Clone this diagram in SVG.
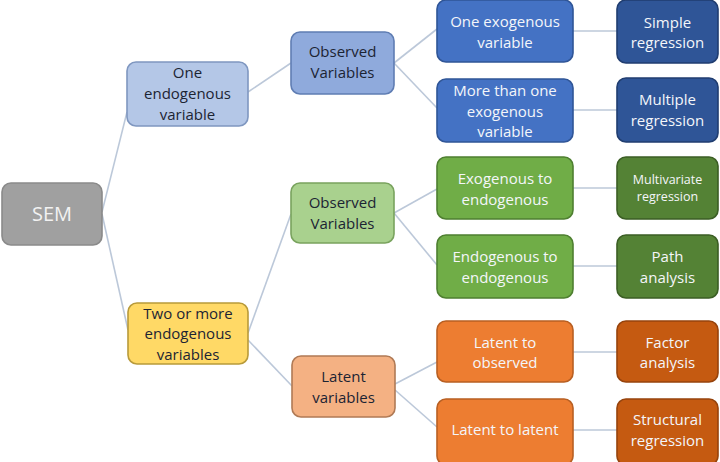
<svg xmlns="http://www.w3.org/2000/svg" width="720" height="462" viewBox="0 0 720 462">
<style>
.bx{stroke-width:1.6}
.t{font-family:"Open Sans","Liberation Sans",sans-serif;font-size:15px;text-anchor:middle}
.dk{fill:#1c2433}
.wt{fill:#f4f6fa}
.cn{stroke:#bcc8d9;stroke-width:1.6;fill:none}
</style>
<rect width="720" height="462" fill="#ffffff"/>
<g id="connectors">
<line class="cn" x1="102" y1="212" x2="127" y2="112"/>
<line class="cn" x1="102" y1="214" x2="128" y2="330"/>
<line class="cn" x1="248" y1="92" x2="291" y2="63"/>
<line class="cn" x1="394" y1="63" x2="437" y2="29"/>
<line class="cn" x1="394" y1="63" x2="437" y2="108"/>
<line class="cn" x1="248" y1="333" x2="291" y2="214"/>
<line class="cn" x1="248" y1="340" x2="292" y2="386"/>
<line class="cn" x1="394" y1="213" x2="437" y2="189"/>
<line class="cn" x1="394" y1="213" x2="437" y2="265"/>
<line class="cn" x1="395" y1="384" x2="437" y2="362"/>
<line class="cn" x1="395" y1="390" x2="437" y2="427"/>
<line class="cn" x1="573" y1="31" x2="617" y2="31"/>
<line class="cn" x1="573" y1="110" x2="617" y2="110"/>
<line class="cn" x1="573" y1="188" x2="617" y2="188"/>
<line class="cn" x1="573" y1="266" x2="617" y2="266"/>
<line class="cn" x1="573" y1="352" x2="617" y2="352"/>
<line class="cn" x1="573" y1="430" x2="617" y2="430"/>
</g>
<g id="sem">
<rect class="bx" x="2" y="183" width="100" height="62" rx="9" fill="#a0a0a0" stroke="#8a8a8a"/>
<text class="t" x="52" y="221" style="font-size:20px" fill="#f2f2f2">SEM</text>
</g>
<g id="one-endogenous">
<rect class="bx" x="127" y="62" width="121" height="64" rx="9" fill="#b4c7e7" stroke="#7f97c0"/>
<text class="t dk" x="187.5" y="78">One</text>
<text class="t dk" x="187.5" y="99">endogenous</text>
<text class="t dk" x="187.5" y="120">variable</text>
</g>
<g id="two-endogenous">
<rect class="bx" x="128" y="303" width="120" height="61" rx="9" fill="#ffd966" stroke="#b89a3a"/>
<text class="t dk" x="188" y="319">Two or more</text>
<text class="t dk" x="188" y="339">endogenous</text>
<text class="t dk" x="188" y="360">variables</text>
</g>
<g id="observed-blue">
<rect class="bx" x="291" y="32" width="103" height="62" rx="9" fill="#8faadc" stroke="#5f7db3"/>
<text class="t dk" x="342.5" y="57">Observed</text>
<text class="t dk" x="342.5" y="78">Variables</text>
</g>
<g id="observed-green">
<rect class="bx" x="291" y="183" width="103" height="60" rx="9" fill="#a9d18e" stroke="#79a35e"/>
<text class="t dk" x="342.5" y="208">Observed</text>
<text class="t dk" x="342.5" y="229">Variables</text>
</g>
<g id="latent">
<rect class="bx" x="292" y="356" width="103" height="61" rx="9" fill="#f4b183" stroke="#b07a55"/>
<text class="t dk" x="343.5" y="382">Latent</text>
<text class="t dk" x="343.5" y="403">variables</text>
</g>
<g id="one-exogenous">
<rect class="bx" x="437" y="0" width="136" height="62" rx="9" fill="#4472c4" stroke="#2f5597"/>
<text class="t wt" x="505" y="27">One exogenous</text>
<text class="t wt" x="505" y="48">variable</text>
</g>
<g id="more-exogenous">
<rect class="bx" x="437" y="79" width="136" height="63" rx="9" fill="#4472c4" stroke="#2f5597"/>
<text class="t wt" x="505" y="96">More than one</text>
<text class="t wt" x="505" y="117">exogenous</text>
<text class="t wt" x="505" y="137">variable</text>
</g>
<g id="exo-endo">
<rect class="bx" x="437" y="157" width="136" height="62" rx="9" fill="#70ad47" stroke="#4e7f30"/>
<text class="t wt" x="505" y="184">Exogenous to</text>
<text class="t wt" x="505" y="205">endogenous</text>
</g>
<g id="endo-endo">
<rect class="bx" x="437" y="235" width="136" height="63" rx="9" fill="#70ad47" stroke="#4e7f30"/>
<text class="t wt" x="505" y="262">Endogenous to</text>
<text class="t wt" x="505" y="283">endogenous</text>
</g>
<g id="latent-observed">
<rect class="bx" x="437" y="321" width="136" height="61" rx="9" fill="#ed7d31" stroke="#b85f22"/>
<text class="t wt" x="505" y="348">Latent to</text>
<text class="t wt" x="505" y="368">observed</text>
</g>
<g id="latent-latent">
<rect class="bx" x="437" y="399" width="136" height="66" rx="9" fill="#ed7d31" stroke="#b85f22"/>
<text class="t wt" x="505" y="435">Latent to latent</text>
</g>
<g id="simple">
<rect class="bx" x="617" y="0" width="101" height="63" rx="9" fill="#2f5597" stroke="#203d70"/>
<text class="t wt" x="667.5" y="28">Simple</text>
<text class="t wt" x="667.5" y="48">regression</text>
</g>
<g id="multiple">
<rect class="bx" x="617" y="78" width="101" height="64" rx="9" fill="#2f5597" stroke="#203d70"/>
<text class="t wt" x="667.5" y="105">Multiple</text>
<text class="t wt" x="667.5" y="126">regression</text>
</g>
<g id="multivariate">
<rect class="bx" x="617" y="157" width="101" height="62" rx="9" fill="#548235" stroke="#3b5e24"/>
<text class="t wt" x="667.5" y="184" style="font-size:12.5px">Multivariate</text>
<text class="t wt" x="667.5" y="201" style="font-size:12.5px">regression</text>
</g>
<g id="path">
<rect class="bx" x="617" y="235" width="101" height="63" rx="9" fill="#548235" stroke="#3b5e24"/>
<text class="t wt" x="667.5" y="262">Path</text>
<text class="t wt" x="667.5" y="283">analysis</text>
</g>
<g id="factor">
<rect class="bx" x="617" y="321" width="101" height="61" rx="9" fill="#c55a11" stroke="#96430c"/>
<text class="t wt" x="667.5" y="348">Factor</text>
<text class="t wt" x="667.5" y="368">analysis</text>
</g>
<g id="structural">
<rect class="bx" x="617" y="399" width="101" height="66" rx="9" fill="#c55a11" stroke="#96430c"/>
<text class="t wt" x="667.5" y="425">Structural</text>
<text class="t wt" x="667.5" y="446">regression</text>
</g>
</svg>
